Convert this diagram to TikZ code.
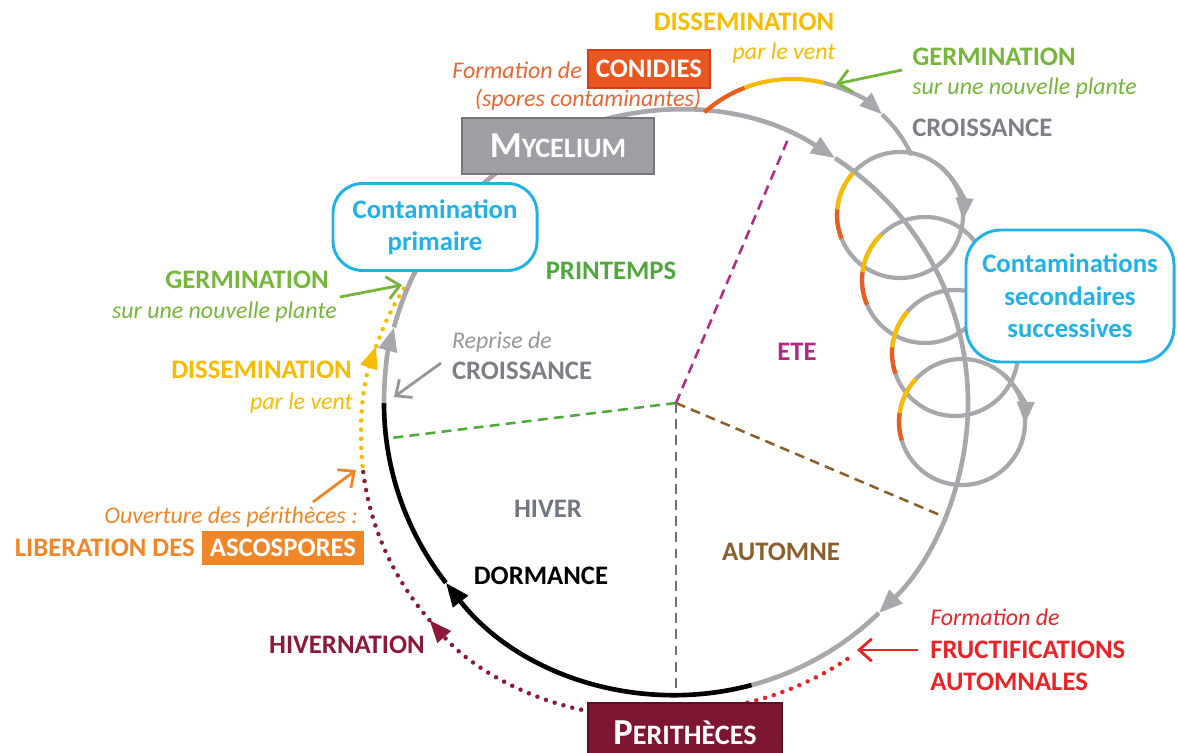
\documentclass[tikz,border=0pt]{standalone}
\usepackage{fontspec}
\setmainfont{Carlito}
\usepackage{xcolor}
\usepackage{tikz}
\usetikzlibrary{arrows.meta,calc,positioning}
\definecolor{arcgray}{RGB}{168,168,172}
\definecolor{txtgray}{RGB}{125,127,135}
\definecolor{reprisegray}{RGB}{150,150,155}
\definecolor{sporeyellow}{RGB}{247,188,0}
\definecolor{sporeorange}{RGB}{236,92,28}
\definecolor{conidfill}{RGB}{234,86,32}
\definecolor{conidborder}{RGB}{214,60,30}
\definecolor{conidtext}{RGB}{232,102,50}
\definecolor{ascoorange}{RGB}{240,134,40}
\definecolor{germgreen}{RGB}{118,182,58}
\definecolor{springgreen}{RGB}{78,168,58}
\definecolor{summermag}{RGB}{176,42,132}
\definecolor{autumnbrown}{RGB}{139,94,42}
\definecolor{winterblue}{RGB}{112,118,130}
\definecolor{perimaroon}{RGB}{125,22,48}
\definecolor{peridark}{RGB}{95,15,35}
\definecolor{hivermaroon}{RGB}{140,25,55}
\definecolor{fructred}{RGB}{232,36,40}
\definecolor{contcyan}{RGB}{32,178,230}
\definecolor{mycgray}{RGB}{158,158,163}
\definecolor{mycborder}{RGB}{118,118,124}
\definecolor{seasongray}{RGB}{110,110,115}
\tikzset{
  mainarc/.style={line width=3.3pt, arcgray},
  coil/.style={line width=3pt, arcgray},
  bigtip/.style={-{Triangle[length=17pt,width=13pt]}},
  smalltip/.style={-{Triangle[length=16pt,width=12pt]}},
  season/.style={dash pattern=on 7pt off 4.5pt, line width=1.8pt},
  dots/.style={line width=3.2pt, line cap=round, dash pattern=on 0pt off 6.5pt},
  pointer/.style={line width=2pt, -{Straight Barb[length=9pt,width=16pt]}},
  lbl/.style={inner sep=0pt, font=\fontsize{19}{23}\selectfont\bfseries},
  it/.style={inner sep=0pt, font=\fontsize{17}{20}\selectfont\itshape},
  cbox/.style={draw=contcyan, line width=2.1pt, fill=white, text=contcyan, align=center, font=\fontsize{19}{23}\selectfont\bfseries},
  tagbox/.style={text=white, inner sep=0pt, font=\fontsize{19}{23}\selectfont\bfseries},
  namebox/.style={text=white, line width=2pt, inner sep=0pt, minimum width=4.8cm, minimum height=1.4cm, font=\fontsize{20}{24}\selectfont\bfseries}
}
\begin{document}
\begin{tikzpicture}[x=0.025cm,y=0.025cm]
	\useasboundingbox (0,0) rectangle (1178,-753);
	\coordinate (ctr) at (676,-403);
	\coordinate (outc) at (640,-437);
	\coordinate (loopc) at (792,-211);
	\coordinate (c1) at (900,-215);
	\coordinate (c2) at (925,-280);
	\coordinate (c3) at (955,-353);
	\coordinate (c4) at (962,-422);

	\draw[season, springgreen] (ctr) -- ($(ctr)+(187:292)$);
	\draw[season, summermag] (ctr) -- ($(ctr)+(67:286)$);
	\draw[season, autumnbrown] (ctr) -- ($(ctr)+(-23:292)$);
	\draw[season, seasongray] (ctr) -- ($(ctr)+(-90:292)$);

	\draw[dots, hivermaroon, smalltip] ($(outc)+(259.7:279)$) arc[start angle=259.7, end angle=221, radius=279];
	\draw[dots, hivermaroon] ($(outc)+(221:279)$) arc[start angle=221, end angle=186, radius=279];
	\draw[dots, sporeyellow, smalltip] ($(outc)+(186:279)$) arc[start angle=186, end angle=161, radius=279];
	\draw[dots, sporeyellow] ($(outc)+(161:279)$) arc[start angle=161, end angle=147, radius=279];
	\draw[dots, fructred] ($(ctr)+(-80:308)$) arc[start angle=-80, end angle=-55, radius=308];

	\draw[mainarc, bigtip] ($(ctr)+(125:292)$) arc[start angle=125, end angle=57, radius=292];
	\draw[mainarc, bigtip] ($(ctr)+(57:292)$) arc[start angle=57, end angle=-46, radius=292];
	\draw[mainarc] ($(ctr)+(-46:292)$) arc[start angle=-46, end angle=-75, radius=292];
	\draw[mainarc, black, bigtip] ($(ctr)+(-75:292)$) arc[start angle=-75, end angle=-142, radius=292];
	\draw[mainarc, black] ($(ctr)+(-142:292)$) arc[start angle=-142, end angle=-180, radius=292];
	\draw[mainarc, bigtip] ($(ctr)+(180:292)$) arc[start angle=180, end angle=165, radius=292];
	\draw[mainarc] ($(ctr)+(165:292)$) arc[start angle=165, end angle=125, radius=292];

	\draw[coil, sporeorange] ($(loopc)+(131.6:132)$) arc[start angle=131.6, end angle=111, radius=132];
	\draw[coil, sporeyellow] ($(loopc)+(111:132)$) arc[start angle=111, end angle=76, radius=132];
	\draw[coil, smalltip] ($(loopc)+(76:132)$) arc[start angle=76, end angle=47, radius=132];
	\draw[coil] ($(loopc)+(47:132)$) arc[start angle=47, end angle=25, radius=132];

	\draw[coil] (c1) circle[radius=63];
	\draw[coil] (c2) circle[radius=63];
	\draw[coil] (c3) circle[radius=63];
	\draw[coil] (c4) circle[radius=63];
	\draw[coil, sporeyellow] ($(c1)+(138:63)$) arc[start angle=138, end angle=175, radius=63];
	\draw[coil, sporeorange] ($(c1)+(175:63)$) arc[start angle=175, end angle=202, radius=63];
	\draw[coil, sporeyellow] ($(c2)+(134:63)$) arc[start angle=134, end angle=173, radius=63];
	\draw[coil, sporeorange] ($(c2)+(173:63)$) arc[start angle=173, end angle=203, radius=63];
	\draw[coil, sporeyellow] ($(c3)+(139:63)$) arc[start angle=139, end angle=175, radius=63];
	\draw[coil, sporeorange] ($(c3)+(175:63)$) arc[start angle=175, end angle=199, radius=63];
	\draw[coil, sporeyellow] ($(c4)+(137:63)$) arc[start angle=137, end angle=172, radius=63];
	\draw[coil, sporeorange] ($(c4)+(172:63)$) arc[start angle=172, end angle=197, radius=63];
	\draw[coil, smalltip] ($(c1)+(50:63)$) arc[start angle=50, end angle=-5, radius=63];
	\draw[coil, smalltip] ($(c4)+(50:63)$) arc[start angle=50, end angle=-2, radius=63];

	\node[namebox, fill=mycgray, draw=mycborder] (myc) at (558,-146) {{\fontsize{26}{26}\selectfont M}YCELIUM};
	\node[namebox, fill=perimaroon, draw=peridark, minimum width=4.85cm, minimum height=1.5cm] (peri) at (685,-733) {{\fontsize{26}{26}\selectfont P}ERITHÈCES};
	\node[cbox, rounded corners=21pt, minimum width=5.1cm, minimum height=2.175cm] (primaire) at (435,-227) {Contamination\\primaire};
	\node[cbox, rounded corners=25pt, minimum width=5.2cm, minimum height=3.3cm] (secondaires) at (1070,-296) {Contaminations\\secondaires\\successives};

	\node[lbl, sporeyellow] (dissTop) at (744,-22) {DISSEMINATION};
	\node[it, sporeyellow] (ventTop) at (784,-53) {par le vent};
	\node[lbl, germgreen, anchor=west] (germTop) at (912,-57) {GERMINATION};
	\node[it, germgreen, anchor=west] (planteTop) at (912,-88) {sur une nouvelle plante};
	\node[lbl, txtgray, anchor=west] (croisTop) at (912,-128) {CROISSANCE};
	\node[tagbox, fill=conidfill, draw=conidborder, line width=1pt, minimum width=3.05cm, minimum height=0.95cm] (conid) at (649,-69) {CONIDIES};
	\node[it, conidtext, anchor=east] (formConid) at (582,-70) {Formation de};
	\node[it, conidtext] (sporesCont) at (588,-100) {(spores contaminantes)};

	\node[lbl, germgreen, anchor=east] (germLeft) at (329,-280) {GERMINATION};
	\node[it, germgreen, anchor=east] (planteLeft) at (337,-312) {sur une nouvelle plante};
	\node[lbl, sporeyellow, anchor=east] (dissLeft) at (352,-370) {DISSEMINATION};
	\node[it, sporeyellow, anchor=east] (ventLeft) at (353,-403) {par le vent};
	\node[it, ascoorange, anchor=east] (ouvert) at (358,-517) {Ouverture des périthèces :};
	\node[tagbox, fill=ascoorange, minimum width=4.07cm, minimum height=0.83cm] (asco) at (283,-548) {ASCOSPORES};
	\node[lbl, ascoorange, anchor=east] (liber) at (195,-548) {LIBERATION DES};
	\node[lbl, hivermaroon, anchor=east] (hivern) at (425,-645) {HIVERNATION};

	\node[lbl, springgreen] (printemps) at (611,-271) {PRINTEMPS};
	\node[it, reprisegray] (reprise) at (502,-342) {Reprise de};
	\node[lbl, txtgray] (croisLeft) at (522,-371) {CROISSANCE};
	\node[lbl, summermag] (ete) at (797,-352) {ETE};
	\node[lbl, winterblue] (hiver) at (548,-509) {HIVER};
	\node[lbl, autumnbrown] (automne) at (781,-552) {AUTOMNE};
	\node[lbl, black] (dormance) at (541,-576) {DORMANCE};

	\node[it, fructred, anchor=west] (formFruct) at (930,-617) {Formation de};
	\node[lbl, fructred, anchor=west] (fruct) at (930,-650) {FRUCTIFICATIONS};
	\node[lbl, fructred, anchor=west] (automnales) at (930,-682) {AUTOMNALES};

	\coordinate (germTopFrom) at (902,-70);
	\coordinate (germTopTo) at (836,-84);
	\coordinate (germLeftFrom) at (340,-297);
	\coordinate (germLeftTo) at (402,-285);
	\coordinate (repriseFrom) at (441,-363);
	\coordinate (repriseTo) at (394,-397);
	\coordinate (ouvertFrom) at (313,-502);
	\coordinate (ouvertTo) at (356,-470);
	\coordinate (fructFrom) at (918,-650);
	\coordinate (fructTo) at (857,-650);
	\draw[pointer, germgreen] (germTopFrom) -- (germTopTo);
	\draw[pointer, germgreen] (germLeftFrom) -- (germLeftTo);
	\draw[pointer, reprisegray] (repriseFrom) -- (repriseTo);
	\draw[pointer, ascoorange] (ouvertFrom) -- (ouvertTo);
	\draw[pointer, fructred] (fructFrom) -- (fructTo);
\end{tikzpicture}
\end{document}
